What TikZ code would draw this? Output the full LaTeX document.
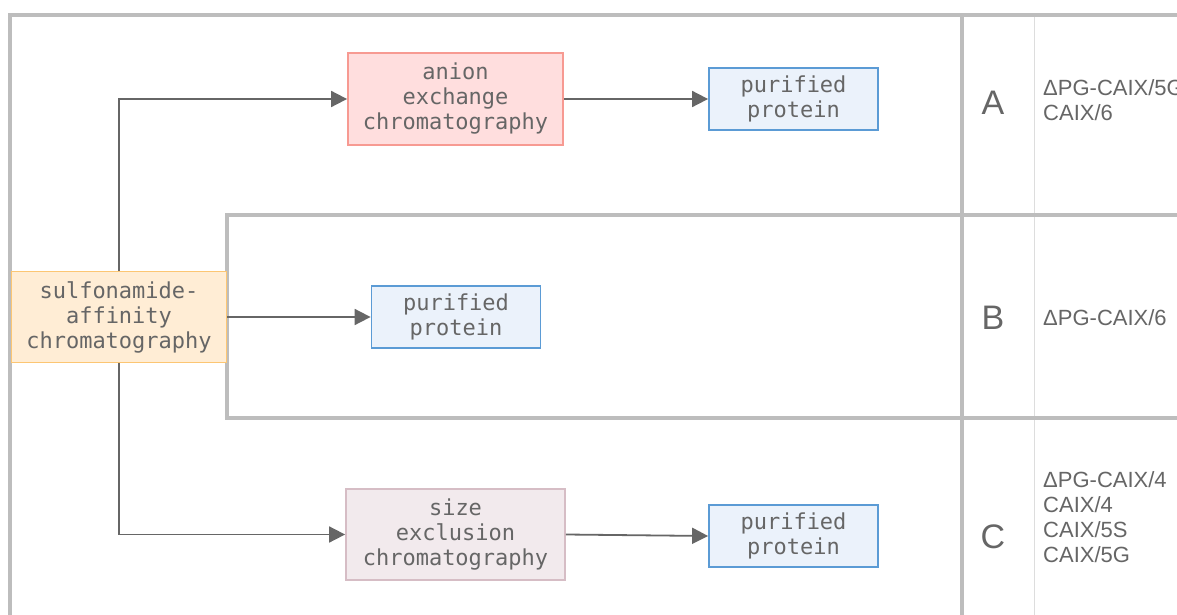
\documentclass[tikz,border=0pt]{standalone}
\usepackage{fontspec}
\setmainfont{Liberation Sans}
\newfontfamily\boxfont{DejaVu Sans Mono}
\usetikzlibrary{arrows.meta}
\definecolor{frame}{HTML}{BDBDBD}
\definecolor{thinrule}{HTML}{DDDDDD}
\definecolor{ink}{HTML}{666666}
\definecolor{arrowgray}{HTML}{666666}
\definecolor{orangefill}{HTML}{FFEDD5}
\definecolor{orangeline}{HTML}{FCC673}
\definecolor{redfill}{HTML}{FFDEDE}
\definecolor{redline}{HTML}{F79A92}
\definecolor{bluefill}{HTML}{EBF2FB}
\definecolor{blueline}{HTML}{5B9BD5}
\definecolor{mauvefill}{HTML}{F2EAED}
\definecolor{mauveline}{HTML}{D6BDC5}
\tikzset{
  stepbox/.style={draw, line width=1.8pt, align=center, inner sep=0pt,
    text=ink, font=\boxfont\fontsize{22}{25}\selectfont},
  source/.style={stepbox, fill=orangefill, draw=orangeline, minimum width=215pt, minimum height=91pt},
  anion/.style={stepbox, fill=redfill, draw=redline, minimum width=215pt, minimum height=92pt},
  sizeex/.style={stepbox, fill=mauvefill, draw=mauveline, minimum width=219pt, minimum height=91pt},
  product/.style={stepbox, fill=bluefill, draw=blueline, minimum width=169pt, minimum height=62pt},
  flow/.style={draw=arrowgray, line width=1.8pt, -{Triangle[length=16pt,width=16pt]}},
  framerule/.style={draw=frame, line width=3.5pt},
  routelabel/.style={text=ink, font=\fontsize{34}{40}\selectfont, inner sep=0pt},
  variants/.style={text=ink, font=\fontsize{22}{25}\selectfont, align=left, anchor=west, inner sep=0pt}
}
\begin{document}
\begin{tikzpicture}[x=1pt,y=-1pt]
\useasboundingbox (0,0) rectangle (1177,615);
\clip (0,0) rectangle (1177,615);
\fill[white] (0,0) rectangle (1177,615);

% table rules
\draw[draw=thinrule, line width=1pt] (1034.5,15) -- (1034.5,620);
\draw[framerule] (10,620) -- (10,15) -- (1185,15);
\draw[framerule] (962,15) -- (962,620);
\draw[framerule] (1185,215) -- (227,215) -- (227,418) -- (1185,418);

% process steps
\node[source]  (saff) at (119,317)   {sulfonamide-\\affinity\\chromatography};
\node[anion]   (aex)  at (455.5,99)  {anion\\exchange\\chromatography};
\node[product] (pA)   at (793.5,99)  {purified\\protein};
\node[product] (pB)   at (456,317)   {purified\\protein};
\node[sizeex]  (sec)  at (455.5,534.5) {size\\exclusion\\chromatography};
\node[product] (pC)   at (793.5,536) {purified\\protein};

% connectors
\draw[flow] (saff.north) |- (aex.west);
\draw[flow] (aex.east) -- (pA.west);
\draw[flow] (saff.east) -- (pB.west);
\draw[flow] (saff.south) |- (sec.west);
\draw[flow] (sec.east) -- (pC.west);

% route labels and constructs
\node[routelabel] (labA) at (993,103) {A};
\node[routelabel] (labB) at (993,318) {B};
\node[routelabel] (labC) at (993,537) {C};
\node[variants] (varA) at (1043,100.5) {ΔPG-CAIX/5G\\CAIX/6};
\node[variants] (varB) at (1043,318) {ΔPG-CAIX/6};
\node[variants] (varC) at (1043,517.5) {ΔPG-CAIX/4\\CAIX/4\\CAIX/5S\\CAIX/5G};
\end{tikzpicture}
\end{document}
